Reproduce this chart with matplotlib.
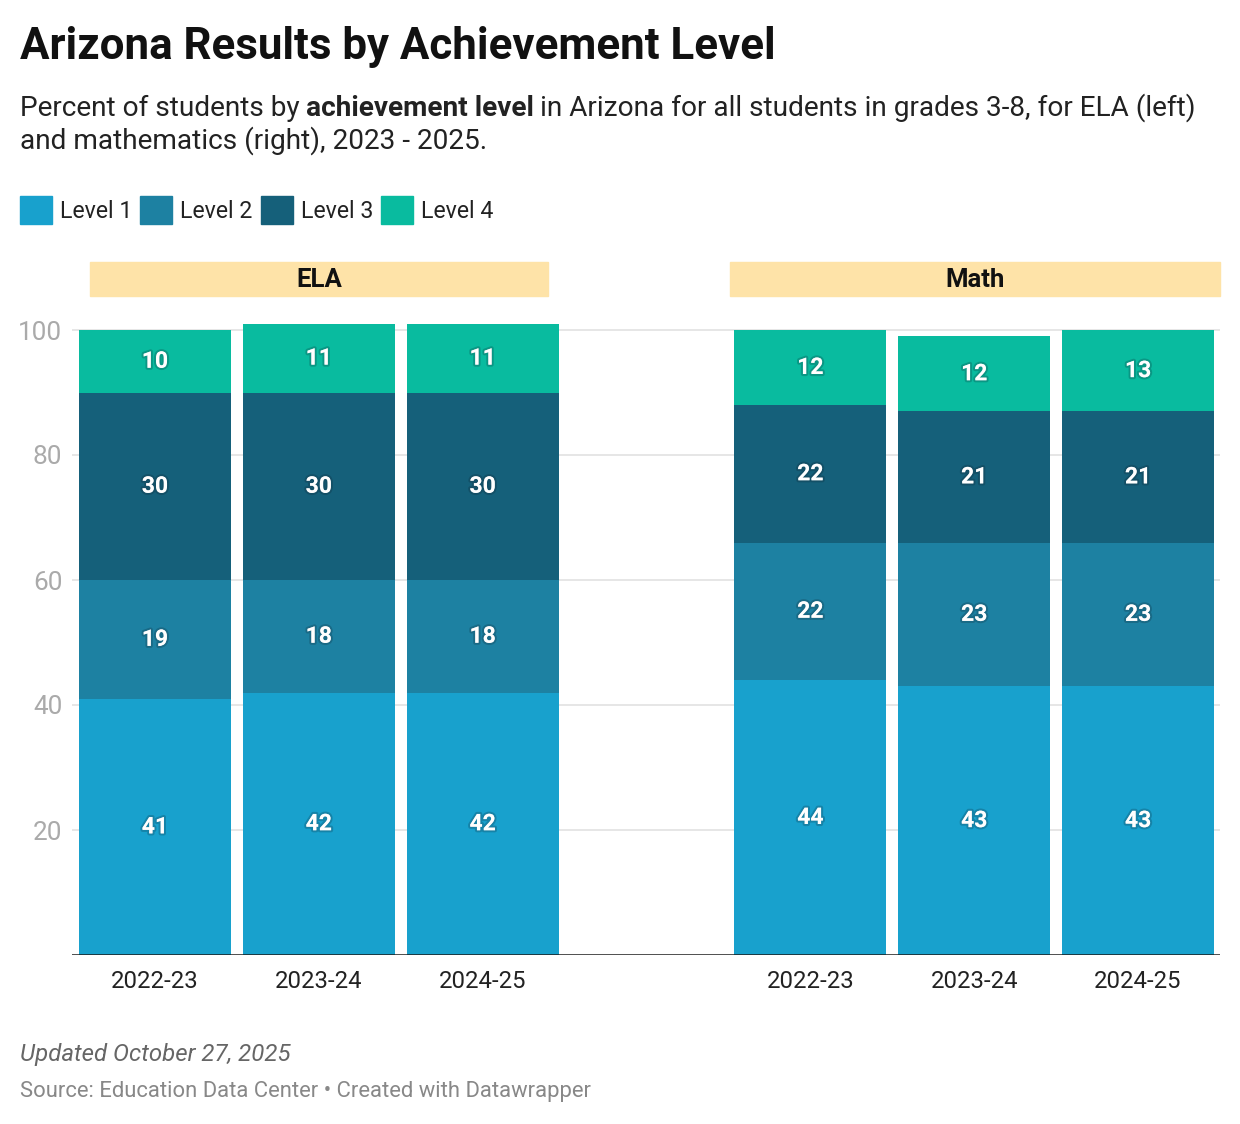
import matplotlib
matplotlib.use("Agg")
import matplotlib.pyplot as plt
import matplotlib.patheffects as pe
import numpy as np

# ---------------- data ----------------
subjects = ["ELA", "Math"]
years = ["2022-23", "2023-24", "2024-25"]
levels = ["Level 1", "Level 2", "Level 3", "Level 4"]
ela_level1 = [41, 42, 42]
ela_level2 = [19, 18, 18]
ela_level3 = [30, 30, 30]
ela_level4 = [10, 11, 11]
math_level1 = [44, 43, 43]
math_level2 = [22, 23, 23]
math_level3 = [22, 21, 21]
math_level4 = [12, 12, 13]
y_ticks = [20, 40, 60, 80, 100]

colors = ["#18a1cd", "#1d81a2", "#15607a", "#09bb9f"]
header_color = "#fee3a8"

plt.rcParams["font.family"] = ["Roboto", "DejaVu Sans"]

W, H = 1240, 1124
fig = plt.figure(figsize=(W / 100, H / 100), dpi=100)

# axes geometry (pixels)
ax_left, ax_right = 72, 1220
y0_px = 955           # value 0
px_per_unit = 6.25
ymax = 104
ax_top = y0_px - ymax * px_per_unit
ax = fig.add_axes([ax_left / W, (H - y0_px) / H, (ax_right - ax_left) / W,
                   (y0_px - ax_top) / H])

pitch = 1.0
positions_ela = np.array([0, 1, 2]) * pitch
positions_math = np.array([4, 5, 6]) * pitch
bar_w = 152 / 164
xmin = -83 / 164
xmax = 6 + 82 / 164
ax.set_xlim(xmin, xmax)
ax.set_ylim(0, ymax)

data = {
    "ELA": [ela_level1, ela_level2, ela_level3, ela_level4],
    "Math": [math_level1, math_level2, math_level3, math_level4],
}
pos = {"ELA": positions_ela, "Math": positions_math}

# gridlines
for t in y_ticks:
    ax.axhline(t, color="#e2e2e2", lw=1.2, zorder=0)

halo = [pe.withStroke(linewidth=3.0, foreground=(0.05, 0.1, 0.15, 0.22))]
for subj in subjects:
    bottoms = np.zeros(3)
    for li, vals in enumerate(data[subj]):
        vals = np.array(vals, dtype=float)
        ax.bar(pos[subj], vals, bottom=bottoms, width=bar_w, color=colors[li],
               zorder=2, linewidth=0)
        for x, b, v in zip(pos[subj], bottoms, vals):
            ax.text(x, b + v / 2, f"{int(v)}", ha="center", va="center",
                    color="white", fontsize=16.5, fontweight="bold",
                    path_effects=halo, zorder=3)
        bottoms += vals

# baseline
ax.axhline(0, color="#1a1a1a", lw=1.8, zorder=4)

for s in ax.spines.values():
    s.set_visible(False)
ax.set_yticks(y_ticks)
ax.set_yticklabels([str(t) for t in y_ticks])
ax.tick_params(axis="y", length=0, pad=7, labelsize=18.8, labelcolor="#aaaaaa")
ax.set_xticks(list(positions_ela) + list(positions_math))
ax.set_xticklabels(years + years)
ax.tick_params(axis="x", length=0, pad=11, labelsize=17.2, labelcolor="#222222")

# panel headers
def px2fig(x, y):
    return x / W, 1 - y / H

for subj, (x1, x2) in zip(subjects, [(90, 548), (730, 1220)]):
    fx, fy = px2fig(x1, 296)
    fw = (x2 - x1) / W
    fh = 34 / H
    fig.patches.append(plt.Rectangle((fx, fy), fw, fh, transform=fig.transFigure,
                                     color=header_color, zorder=0))
    cx, cy = px2fig((x1 + x2) / 2, 280)
    fig.text(cx, cy, subj, ha="center", va="center", fontsize=18.5,
             fontweight="bold", color="#111111")

# title
fig.text(*px2fig(20, 47), "Arizona Results by Achievement Level", fontsize=31.6,
         fontweight="bold", color="#111111", va="center", ha="left")

# subtitle with bold part
sub_fs = 20.2
sub_y = 108
t1 = fig.text(*px2fig(20, sub_y), "Percent of students by", fontsize=sub_fs,
              color="#222222", va="center", ha="left")
t2 = fig.text(0, 0, "achievement level", fontsize=sub_fs, fontweight="bold",
              color="#222222", va="center", ha="left")
t3 = fig.text(0, 0, "in Arizona for all students in grades 3-8, for ELA (left)",
              fontsize=sub_fs, color="#222222", va="center", ha="left")
fig.text(*px2fig(20, sub_y + 33), "and mathematics (right), 2023 - 2025.",
         fontsize=sub_fs, color="#222222", va="center", ha="left")

renderer = fig.canvas.get_renderer()
bb1 = t1.get_window_extent(renderer)
space_px = 6
t2.set_position(((bb1.x1 + space_px) / W, 1 - sub_y / H))
bb2 = t2.get_window_extent(renderer)
t3.set_position(((bb2.x1 + space_px) / W, 1 - sub_y / H))

# legend
lx = 20
for lab, c in zip(levels, colors):
    fx, fy = px2fig(lx, 224)
    fig.patches.append(plt.Rectangle((fx, fy), 32 / W, 28 / H,
                                     transform=fig.transFigure, color=c))
    t = fig.text((lx + 40) / W, 1 - 211 / H, lab, fontsize=16.7, color="#222222",
                 va="center", ha="left")
    bb = t.get_window_extent(renderer)
    lx = bb.x1 + 8

# footer
fig.text(*px2fig(20, 1055), "Updated October 27, 2025", fontsize=17.3,
         style="italic", color="#666666", va="center", ha="left")
fig.text(*px2fig(20, 1091),
         "Source: Education Data Center \u2022 Created with Datawrapper",
         fontsize=15.8, color="#888888", va="center", ha="left")

fig.savefig("out.png", dpi=100, facecolor="white")
